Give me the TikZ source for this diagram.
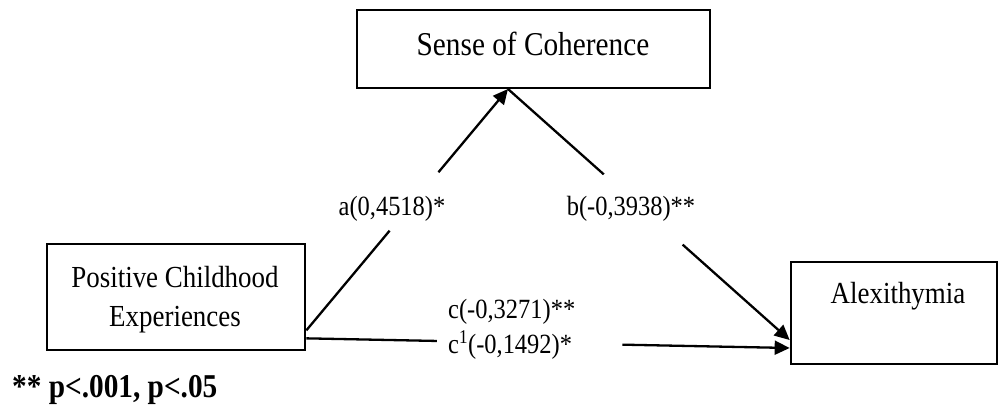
\documentclass[tikz,border=0pt]{standalone}
\usepackage{fontspec}
\setmainfont{Liberation Serif}[FakeStretch=0.88]
\usetikzlibrary{arrows.meta,calc}
\begin{document}
\begin{tikzpicture}[x=1pt,y=-1pt,
  box/.style={draw,line width=2.7pt,inner sep=0pt},
  conn/.style={line width=2.3pt},
  tip/.style={-{Triangle[length=15pt,width=14pt]}},
  txt/.style={inner sep=0pt,anchor=base,font=\fontsize{30.6}{33}\selectfont},
  bigtxt/.style={inner sep=0pt,anchor=base,font=\fontsize{33.3}{36}\selectfont},
  lbl/.style={inner sep=0pt,anchor=base,font=\fontsize{27.8}{30}\selectfont},
  note/.style={inner sep=0pt,anchor=base west,font=\fontsize{33.3}{36}\selectfont\bfseries}]
\useasboundingbox (0,0) rectangle (999,409);
% boxes
\node[box,minimum width=353pt,minimum height=78pt] (soc) at (533.5,49) {};
\node[box,minimum width=258pt,minimum height=106pt] (pce) at (176,297) {};
\node[box,minimum width=206pt,minimum height=102pt] (alex) at (894,313) {};
% box texts
\node[bigtxt] (soct) at (533,56) {Sense of Coherence};
\node[txt] (pcet1) at (175,287) {Positive Childhood};
\node[txt] (pcet2) at (175,326) {Experiences};
\node[txt] (alext) at (898,303) {Alexithymia};
% connector end points
\coordinate (apex) at (508,89);
\coordinate (a0) at ($(pce.south east)+(0,-21)$);
\coordinate (c0) at ($(pce.south east)+(0,-13)$);
\coordinate (b1) at ($(alex.west)+(0,27)$);
\coordinate (c1) at ($(alex.west)+(0,35)$);
% connectors
\draw[conn] (a0) -- ($(a0)!0.413!(apex)$);
\draw[conn,tip] ($(a0)!0.655!(apex)$) -- (apex);
\draw[conn] (apex) -- ($(apex)!0.34!(b1)$);
\draw[conn,tip] ($(apex)!0.62!(b1)$) -- (b1);
\draw[conn] (c0) -- ($(c0)!0.27!(c1)$);
\draw[conn,tip] ($(c0)!0.654!(c1)$) -- (c1);
% labels
\node[lbl] (la) at (392,215) {a(0,4518)*};
\node[lbl] (lb) at (631,215) {b(-0,3938)**};
\node[lbl,anchor=base west] (lc) at (448,318) {c(-0,3271)**};
\node[lbl,anchor=base west] (lc1) at (448,353) {c\textsuperscript{1}(-0,1492)*};
\node[note] (pnote) at (12,397) {** p<.001, p<.05};
\end{tikzpicture}
\end{document}
